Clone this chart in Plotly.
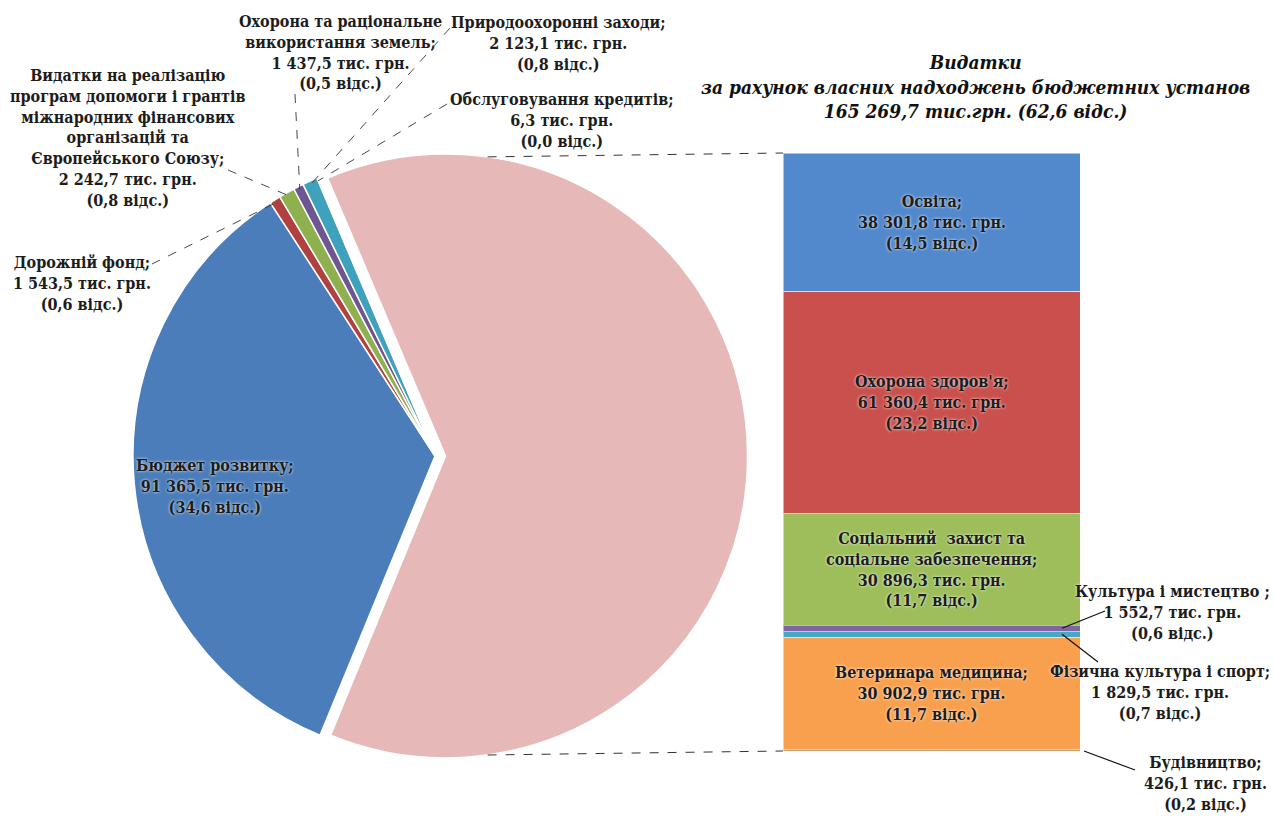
import math
import plotly.graph_objects as go

# ---------------- data ----------------
pie_labels = [
    "Видатки за рахунок власних надходжень бюджетних установ",
    "Бюджет розвитку;",
    "Дорожній фонд;",
    "Видатки на реалізацію<br>програм допомоги і грантів<br>міжнародних фінансових<br>організацій та<br>Європейського Союзу;",
    "Охорона та раціональне<br>використання земель;",
    "Природоохоронні заходи;",
    "Обслуговування кредитів;",
]
pie_values = [165269.7, 91365.5, 1543.5, 2242.7, 1437.5, 2123.1, 6.3]
pie_pct = [62.6, 34.6, 0.6, 0.8, 0.5, 0.8, 0.0]

bar_labels = [
    "Освіта;",
    "Охорона здоров'я;",
    "Соціальний  захист та<br>соціальне забезпечення;",
    "Культура і мистецтво ;",
    "Фізична культура і спорт;",
    "Ветеринара медицина;",
    "Будівництво;",
]
bar_values = [38301.8, 61360.4, 30896.3, 1552.7, 1829.5, 30902.9, 426.1]
bar_pct = [14.5, 23.2, 11.7, 0.6, 0.7, 11.7, 0.2]

title_lines = ["Видатки", "за рахунок власних надходжень бюджетних установ",
               "165 269,7 тис.грн. (62,6 відс.)"]

# ---------------- style ----------------
W, H = 1274, 816
pie_colors = ["#E6B9B8", "#4A7DBA", "#B0413E", "#8FB04E", "#6E5693", "#3FA2BC", "#F79646"]
bar_colors = ["#5288CC", "#C9504C", "#9DBE5B", "#7F66A3", "#46A8C8", "#F9A04E", "#C8A374"]
FONT = "DejaVu Serif Condensed, DejaVu Serif, serif"
TFONT = "DejaVu Serif Condensed, DejaVu Serif, serif"
TXT = "#1c1c1c"
SHADOW = "0px 0px 3px white"

CX, CY, R, PULL = 435, 456, 302, 0.035
BAR_X0, BAR_X1, BAR_Y0, BAR_Y1 = 783, 1080, 153, 751


def px(x):
    return x / W


def py(y):
    return 1 - y / H


def fmt(v):
    return f"{v:,.1f}".replace(",", " ").replace(".", ",")


def pct(p):
    return f"{p:.1f}".replace(".", ",")


def full_text(name, v, p):
    return f"{name}<br>{fmt(v)} тис. грн.<br>({pct(p)} відс.)"


fig = go.Figure()

half = R * (1 + PULL)
pulls = [PULL] + [0] * (len(pie_values) - 1)
ROT = -23
fig.add_trace(go.Pie(
    values=pie_values, labels=pie_labels, sort=False, direction="clockwise",
    rotation=ROT, pull=pulls, textinfo="none", hoverinfo="label+value",
    marker=dict(colors=pie_colors, line=dict(color="white", width=1.5)),
    domain=dict(x=[px(CX - half), px(CX + half)], y=[py(CY + half), py(CY - half)]),
    showlegend=False,
))

for name, v, c in zip(bar_labels, bar_values, bar_colors):
    fig.add_trace(go.Bar(
        x=[0], y=[v], width=1, marker=dict(color=c, line=dict(color="rgba(255,255,255,0.5)", width=1)),
        name=name, showlegend=False, hoverinfo="name+y",
    ))

total_bar = sum(bar_values)
fig.update_layout(
    width=W, height=H, margin=dict(l=0, r=0, t=0, b=0),
    paper_bgcolor="white", plot_bgcolor="white", barmode="stack",
    xaxis=dict(domain=[px(BAR_X0), px(BAR_X1)], range=[-0.5, 0.5], visible=False, fixedrange=True),
    yaxis=dict(domain=[py(BAR_Y1), py(BAR_Y0)], range=[total_bar, 0], visible=False, fixedrange=True),
)

# ---------------- pie geometry ----------------
tot = sum(pie_values)
angles = []
a = ROT
for v in pie_values:
    span = v / tot * 360
    angles.append((a, a + span))
    a += span


def edge(angle_deg, rr):
    t = math.radians(angle_deg)
    return CX + rr * math.sin(t), CY - rr * math.cos(t)


shapes = []
annots = []

# connector lines pink slice -> bar
pink_mid = sum(angles[0]) / 2
dx = PULL * R * math.sin(math.radians(pink_mid))
dy = -PULL * R * math.cos(math.radians(pink_mid))
tx, ty = edge(8, R)
bx, by = edge(172, R)
for (x0, y0, x1, y1) in [(tx + dx, ty + dy, BAR_X0, BAR_Y0), (bx + dx, by + dy, BAR_X0, BAR_Y1)]:
    shapes.append(dict(type="line", xref="paper", yref="paper", x0=px(x0), y0=py(y0), x1=px(x1), y1=py(y1),
                       line=dict(color="#333", width=1, dash="dash")))

# budget label inside blue slice
mid = sum(angles[1]) / 2
lx, ly = edge(mid, R * 0.73)
annots.append(dict(x=px(lx), y=py(ly + 10), text=full_text(pie_labels[1], pie_values[1], pie_pct[1])))

# outside labels for small slices: (label centre, leader start)
outside = {
    2: ((82, 283), (152, 264)),
    3: ((128, 138), (228, 170)),
    4: ((341, 52), (295, 94)),
    5: ((558, 43), (450, 28)),
    6: ((562, 120), (447, 104)),
}
for i, ((cx_, cy_), (sx, sy)) in outside.items():
    annots.append(dict(x=px(cx_), y=py(cy_), text=full_text(pie_labels[i], pie_values[i], pie_pct[i])))
    ex, ey = edge(sum(angles[i]) / 2, R * 0.99)
    shapes.append(dict(type="line", xref="paper", yref="paper", x0=px(sx), y0=py(sy), x1=px(ex), y1=py(ey),
                       line=dict(color="#333", width=0.9, dash="dash")))

# bar labels
cum = 0
mids = []
for v in bar_values:
    mids.append(cum + v / 2)
    cum += v
for i in (0, 1, 2, 5):
    annots.append(dict(x=0, y=mids[i], xref="x", yref="y",
                       text=full_text(bar_labels[i], bar_values[i], bar_pct[i])))


def bar_py(val):
    return py(BAR_Y0 + (BAR_Y1 - BAR_Y0) * val / total_bar)


right = {
    3: ((1172, 612), (1105, 611), 1062),
    4: ((1160, 692), (1098, 662), 1062),
    6: ((1205, 783), (1135, 770), 1084),
}
for i, ((cx_, cy_), (sx, sy), xe) in right.items():
    annots.append(dict(x=px(cx_), y=py(cy_), text=full_text(bar_labels[i], bar_values[i], bar_pct[i])))
    y_end = mids[i] if i != 6 else total_bar
    shapes.append(dict(type="line", xref="paper", yref="paper", x0=px(sx), y0=py(sy),
                       x1=px(xe), y1=bar_py(y_end), line=dict(color="#111", width=1.2)))

for an in annots:
    an.setdefault("xref", "paper")
    an.setdefault("yref", "paper")
    an.update(showarrow=False, xanchor="center", yanchor="middle", align="center",
              font=dict(family=FONT, size=16, color=TXT, weight="bold", shadow=SHADOW))

annots.append(dict(x=px(975), y=py(87), xref="paper", yref="paper", showarrow=False,
                   xanchor="center", yanchor="middle", align="center",
                   text="<br>".join(title_lines),
                   font=dict(family=TFONT, size=19, color="#111", weight="bold", style="italic")))

fig.update_layout(shapes=shapes, annotations=annots)
fig.write_html("out.html", config={"displayModeBar": False},
               post_script="document.body.style.margin='0px';")
